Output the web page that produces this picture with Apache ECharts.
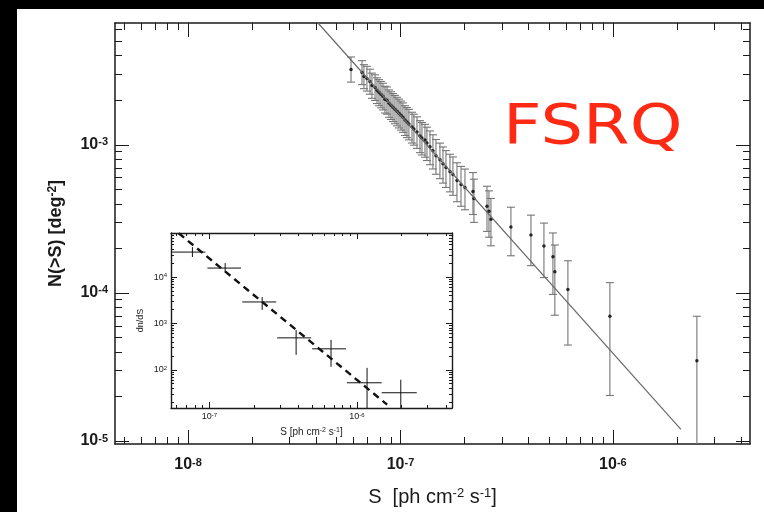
<!DOCTYPE html>
<html>
<head>
<meta charset="utf-8">
<script src="https://cdn.jsdelivr.net/npm/echarts@6/dist/echarts.min.js"></script>
<style>
  html, body { margin: 0; padding: 0; background: #fff; }
  #chart { width: 764px; height: 512px; }
</style>
</head>
<body>
<div id="chart"></div>
<script>
// ---- Cumulative counts N(>S) of FSRQs, S in ph cm^-2 s^-1, N in deg^-2 ----
const fluxS = [
  5.85e-8, 6.59e-8, 6.73e-8, 6.95e-8, 7.18e-8, 7.34e-8, 7.59e-8, 7.75e-8, 7.92e-8, 8.09e-8,
  8.27e-8, 8.45e-8, 8.64e-8, 8.83e-8, 9.02e-8, 9.22e-8, 9.42e-8, 9.63e-8, 9.84e-8, 1.005e-7,
  1.027e-7, 1.05e-7, 1.073e-7, 1.096e-7, 1.133e-7, 1.157e-7, 1.196e-7, 1.235e-7, 1.262e-7, 1.304e-7,
  1.332e-7, 1.377e-7, 1.422e-7, 1.469e-7, 1.534e-7, 1.585e-7, 1.637e-7, 1.71e-7, 1.766e-7, 1.845e-7,
  1.927e-7, 2.012e-7, 2.194e-7, 2.218e-7, 2.554e-7, 2.609e-7, 2.666e-7,
  3.311e-7, 4.113e-7, 4.735e-7, 5.22e-7, 5.33e-7, 6.14e-7, 9.68e-7, 2.485e-6
];
const countN = [
  3.225e-3, 3.079e-3, 2.893e-3, 2.806e-3, 2.679e-3, 2.519e-3, 2.443e-3, 2.333e-3, 2.262e-3, 2.193e-3,
  2.127e-3, 2.031e-3, 2.0e-3, 1.91e-3, 1.852e-3, 1.796e-3, 1.741e-3, 1.688e-3, 1.637e-3, 1.587e-3,
  1.539e-3, 1.47e-3, 1.425e-3, 1.382e-3, 1.319e-3, 1.279e-3, 1.222e-3, 1.149e-3, 1.114e-3, 1.08e-3,
  1.031e-3, 9.70e-4, 9.12e-4, 8.44e-4, 7.94e-4, 7.46e-4, 7.02e-4, 6.6e-4, 6.3e-4, 5.74e-4,
  5.40e-4, 5.16e-4, 4.85e-4, 4.35e-4, 3.85e-4, 3.56e-4, 3.15e-4,
  2.786e-4, 2.462e-4, 2.078e-4, 1.754e-4, 1.392e-4, 1.055e-4, 6.96e-5, 3.48e-5
];
// error bar half-lengths in decades (upper / lower)
const errUpDex = [
  0.085, 0.08, 0.08, 0.082, 0.083, 0.083, 0.085, 0.085, 0.086, 0.087,
  0.088, 0.088, 0.09, 0.09, 0.091, 0.092, 0.093, 0.094, 0.095, 0.095,
  0.096, 0.097, 0.098, 0.099, 0.1, 0.1, 0.102, 0.103, 0.104, 0.105,
  0.106, 0.107, 0.108, 0.11, 0.112, 0.113, 0.115, 0.117, 0.119, 0.12,
  0.122, 0.124, 0.127, 0.13, 0.135, 0.138, 0.14,
  0.134, 0.134, 0.154, 0.161, 0.18, 0.194, 0.227, 0.301
];
const errDownDex = [
  0.085, 0.082, 0.082, 0.085, 0.086, 0.087, 0.088, 0.089, 0.09, 0.091,
  0.092, 0.093, 0.094, 0.095, 0.096, 0.097, 0.098, 0.099, 0.1, 0.101,
  0.103, 0.104, 0.105, 0.107, 0.108, 0.109, 0.111, 0.113, 0.115, 0.117,
  0.119, 0.121, 0.123, 0.125, 0.128, 0.131, 0.134, 0.137, 0.14, 0.143,
  0.147, 0.151, 0.156, 0.162, 0.17, 0.175, 0.18,
  0.194, 0.207, 0.214, 0.254, 0.294, 0.375, 0.535, 0.9
];
// power-law fit to N(>S)
const fitS = [4.09e-8, 2.09e-6];
const fitN = [6.65e-3, 1.2e-5];

// ---- Inset: differential counts dn/dS ----
const diffS   = [7.68e-8, 1.28e-7, 2.28e-7, 3.87e-7, 6.67e-7, 1.17e-6, 1.98e-6];
const diffSLo = [5.6e-8, 9.7e-8, 1.67e-7, 2.88e-7, 4.97e-7, 8.55e-7, 1.47e-6];
const diffSHi = [9.4e-8, 1.64e-7, 2.84e-7, 4.89e-7, 8.43e-7, 1.47e-6, 2.54e-6];
const diffN   = [3.45e4, 1.56e4, 2.9e3, 488, 283, 52.5, 32];
const diffNLo = [2.7e4, 1.28e4, 1.95e3, 210, 116, 12, 10];
const diffNHi = [4.4e4, 2.0e4, 3.7e3, 724, 442, 110, 61];
const diffFitS = [6.2e-8, 1.6e-6];
const diffFitN = [8.8e4, 17.7];

// ---- Axis ranges and tick values ----
const mainXRange = [4.53e-9, 4.42e-6];
const mainYRange = [9.55e-6, 6.65e-3];
const mainXMajor = [1e-8, 1e-7, 1e-6];
const mainXMinor = [5e-9, 6e-9, 7e-9, 8e-9, 9e-9,
  2e-8, 3e-8, 4e-8, 5e-8, 6e-8, 7e-8, 8e-8, 9e-8,
  2e-7, 3e-7, 4e-7, 5e-7, 6e-7, 7e-7, 8e-7, 9e-7,
  2e-6, 3e-6, 4e-6];
const mainYMajor = [1e-5, 1e-4, 1e-3];
const mainYMinor = [2e-5, 3e-5, 4e-5, 5e-5, 6e-5, 7e-5, 8e-5, 9e-5,
  2e-4, 3e-4, 4e-4, 5e-4, 6e-4, 7e-4, 8e-4, 9e-4,
  2e-3, 3e-3, 4e-3, 5e-3, 6e-3];

const insetXRange = [5.5e-8, 4.4e-6];
const insetYRange = [15, 8.9e4];
const insetXMajor = [1e-7, 1e-6];
const insetXMinor = [6e-8, 7e-8, 8e-8, 9e-8,
  2e-7, 3e-7, 4e-7, 5e-7, 6e-7, 7e-7, 8e-7, 9e-7,
  2e-6, 3e-6, 4e-6];
const insetYMajor = [1e2, 1e3, 1e4];
const insetYMinor = [20, 30, 40, 50, 60, 70, 80, 90,
  200, 300, 400, 500, 600, 700, 800, 900,
  2000, 3000, 4000, 5000, 6000, 7000, 8000, 9000,
  2e4, 3e4, 4e4, 5e4, 6e4, 7e4, 8e4];

const FONT = 'Liberation Sans';
const INK = '#1a1a1a';

function powerLabel(size, supSize, weight, margin) {
  return {
    margin: margin,
    formatter: v => '{b|10}{s|' + Math.round(Math.log10(v)) + '}',
    rich: {
      b: { fontSize: size, fontWeight: weight, fontFamily: FONT, color: INK, verticalAlign: 'bottom' },
      s: { fontSize: supSize, fontWeight: weight, fontFamily: FONT, color: INK, verticalAlign: 'top' }
    }
  };
}

// Four axes per dimension: labelled side (major + minor ticks) and mirrored side (major + minor ticks)
function framedAxes(grid, sides, range, major, minor, majLen, minLen, lineW, label, nameOpt) {
  const base = {
    type: 'log', logBase: 10, gridIndex: grid, min: range[0], max: range[1],
    splitLine: { show: false }, axisPointer: { show: false }
  };
  const tickStyle = { color: INK, width: 1 };
  const out = [];
  sides.forEach((side, k) => {
    const majorAxis = Object.assign({}, base, {
      position: side,
      axisLine: { show: true, onZero: false, lineStyle: { color: INK, width: lineW } },
      axisTick: { show: true, inside: true, length: majLen, customValues: major, lineStyle: tickStyle },
      axisLabel: (k === 0 && label) ? Object.assign({ customValues: major }, label) : { show: false }
    });
    if (k === 0 && nameOpt) Object.assign(majorAxis, nameOpt);
    const minorAxis = Object.assign({}, base, {
      position: side,
      axisLine: { show: false },
      axisTick: { show: true, inside: true, length: minLen, customValues: minor, lineStyle: tickStyle },
      axisLabel: { show: false }
    });
    out.push(majorAxis, minorAxis);
  });
  return out;
}

const xAxes = [].concat(
  framedAxes(0, ['bottom', 'top'], mainXRange, mainXMajor, mainXMinor, 14, 7, 1.5,
    powerLabel(16, 11, 'bold', 13),
    {
      name: '{t|S  [ph cm}{s|-2}{t| s}{s|-1}{t|]}', nameLocation: 'middle', nameGap: 43,
      nameTextStyle: { rich: {
        t: { fontSize: 20, fontFamily: FONT, color: INK, verticalAlign: 'bottom' },
        s: { fontSize: 13, fontFamily: FONT, color: INK, verticalAlign: 'top' }
      } }
    }),
  framedAxes(1, ['bottom', 'top'], insetXRange, insetXMajor, insetXMinor, 6, 3, 1.4,
    powerLabel(9, 6, 'normal', 4),
    {
      name: '{t|S [ph cm}{s|-2}{t| s}{s|-1}{t|]}', nameLocation: 'middle', nameGap: 19,
      nameTextStyle: { rich: {
        t: { fontSize: 10, fontFamily: FONT, color: INK, verticalAlign: 'bottom' },
        s: { fontSize: 7, fontFamily: FONT, color: INK, verticalAlign: 'top' }
      } }
    })
);

const yAxes = [].concat(
  framedAxes(0, ['left', 'right'], mainYRange, mainYMajor, mainYMinor, 14, 7, 1.5,
    powerLabel(16, 11, 'bold', 7),
    {
      name: '{t|N(>S) [deg}{s|-2}{t|]}', nameLocation: 'middle', nameGap: 50, nameRotate: 90,
      nameTextStyle: { rich: {
        t: { fontSize: 18, fontWeight: 'bold', fontFamily: FONT, color: INK, verticalAlign: 'bottom' },
        s: { fontSize: 12, fontWeight: 'bold', fontFamily: FONT, color: INK, verticalAlign: 'top' }
      } }
    }),
  framedAxes(1, ['left', 'right'], insetYRange, insetYMajor, insetYMinor, 6, 3, 1.4,
    powerLabel(9, 6, 'normal', 4),
    {
      name: 'dn/dS', nameLocation: 'middle', nameGap: 26, nameRotate: 90,
      nameTextStyle: { fontSize: 9, fontFamily: FONT, color: INK }
    })
);

// Vertical error bar with caps
function errorBarItem(params, api) {
  const s = api.value(0);
  const hi = api.coord([s, api.value(3)]);
  const lo = api.coord([s, api.value(2)]);
  const cap = 4;
  const st = { stroke: '#767676', lineWidth: 1.1 };
  return {
    type: 'group',
    children: [
      { type: 'line', shape: { x1: hi[0], y1: hi[1], x2: lo[0], y2: lo[1] }, style: st },
      { type: 'line', shape: { x1: hi[0] - cap, y1: hi[1], x2: hi[0] + cap, y2: hi[1] }, style: st },
      { type: 'line', shape: { x1: lo[0] - cap, y1: lo[1], x2: lo[0] + cap, y2: lo[1] }, style: st }
    ]
  };
}

// Cross: horizontal bin width + vertical error
function crossItem(params, api) {
  const s = api.value(0), n = api.value(1);
  const left = api.coord([api.value(2), n]);
  const right = api.coord([api.value(3), n]);
  const bot = api.coord([s, api.value(4)]);
  const top = api.coord([s, api.value(5)]);
  const st = { stroke: '#111', lineWidth: 1 };
  return {
    type: 'group',
    children: [
      { type: 'line', shape: { x1: left[0], y1: left[1], x2: right[0], y2: right[1] }, style: st },
      { type: 'line', shape: { x1: top[0], y1: top[1], x2: bot[0], y2: bot[1] }, style: st }
    ]
  };
}

const option = {
  backgroundColor: '#fff',
  animation: false,
  grid: [
    { left: 115, right: 14, top: 23, bottom: 64, show: false },
    { left: 171, right: 312, top: 233, bottom: 104, show: false }
  ],
  xAxis: xAxes,
  yAxis: yAxes,
  graphic: [
    { type: 'rect', shape: { x: 0, y: 0, width: 764, height: 9 }, style: { fill: '#000' }, silent: true },
    { type: 'rect', shape: { x: 0, y: 0, width: 17, height: 512 }, style: { fill: '#000' }, silent: true },
    {
      type: 'text', x: 503, y: 101, scaleX: 1.22,
      style: { text: 'FSRQ', fill: '#ff2a14', font: '55px "DejaVu Sans"', textVerticalAlign: 'top' }
    }
  ],
  series: [
    {
      type: 'line', xAxisIndex: 0, yAxisIndex: 0, symbol: 'none', clip: true,
      data: fitS.map((s, i) => [s, fitN[i]]),
      lineStyle: { color: '#6a6a6a', width: 1.2 }
    },
    {
      type: 'custom', xAxisIndex: 0, yAxisIndex: 0, clip: true,
      data: fluxS.map((s, i) => [s, countN[i],
        countN[i] / Math.pow(10, errDownDex[i]), countN[i] * Math.pow(10, errUpDex[i])]),
      encode: { x: 0, y: 1 },
      renderItem: errorBarItem
    },
    {
      type: 'scatter', xAxisIndex: 0, yAxisIndex: 0,
      data: fluxS.map((s, i) => [s, countN[i]]),
      symbolSize: 3.5, itemStyle: { color: '#000' }
    },
    {
      type: 'custom', xAxisIndex: 4, yAxisIndex: 4, clip: true, z: 5,
      data: diffS.map((s, i) => [s, diffN[i], diffSLo[i], diffSHi[i], diffNLo[i], diffNHi[i]]),
      encode: { x: 0, y: 1 },
      renderItem: crossItem
    },
    {
      type: 'line', xAxisIndex: 4, yAxisIndex: 4, symbol: 'none', clip: true, z: 5,
      data: diffFitS.map((s, i) => [s, diffFitN[i]]),
      lineStyle: { color: '#111', width: 2.4, type: [7, 5] }
    }
  ]
};

const chart = echarts.init(document.getElementById('chart'), null, { renderer: 'canvas' });
chart.setOption(option);
</script>
</body>
</html>
